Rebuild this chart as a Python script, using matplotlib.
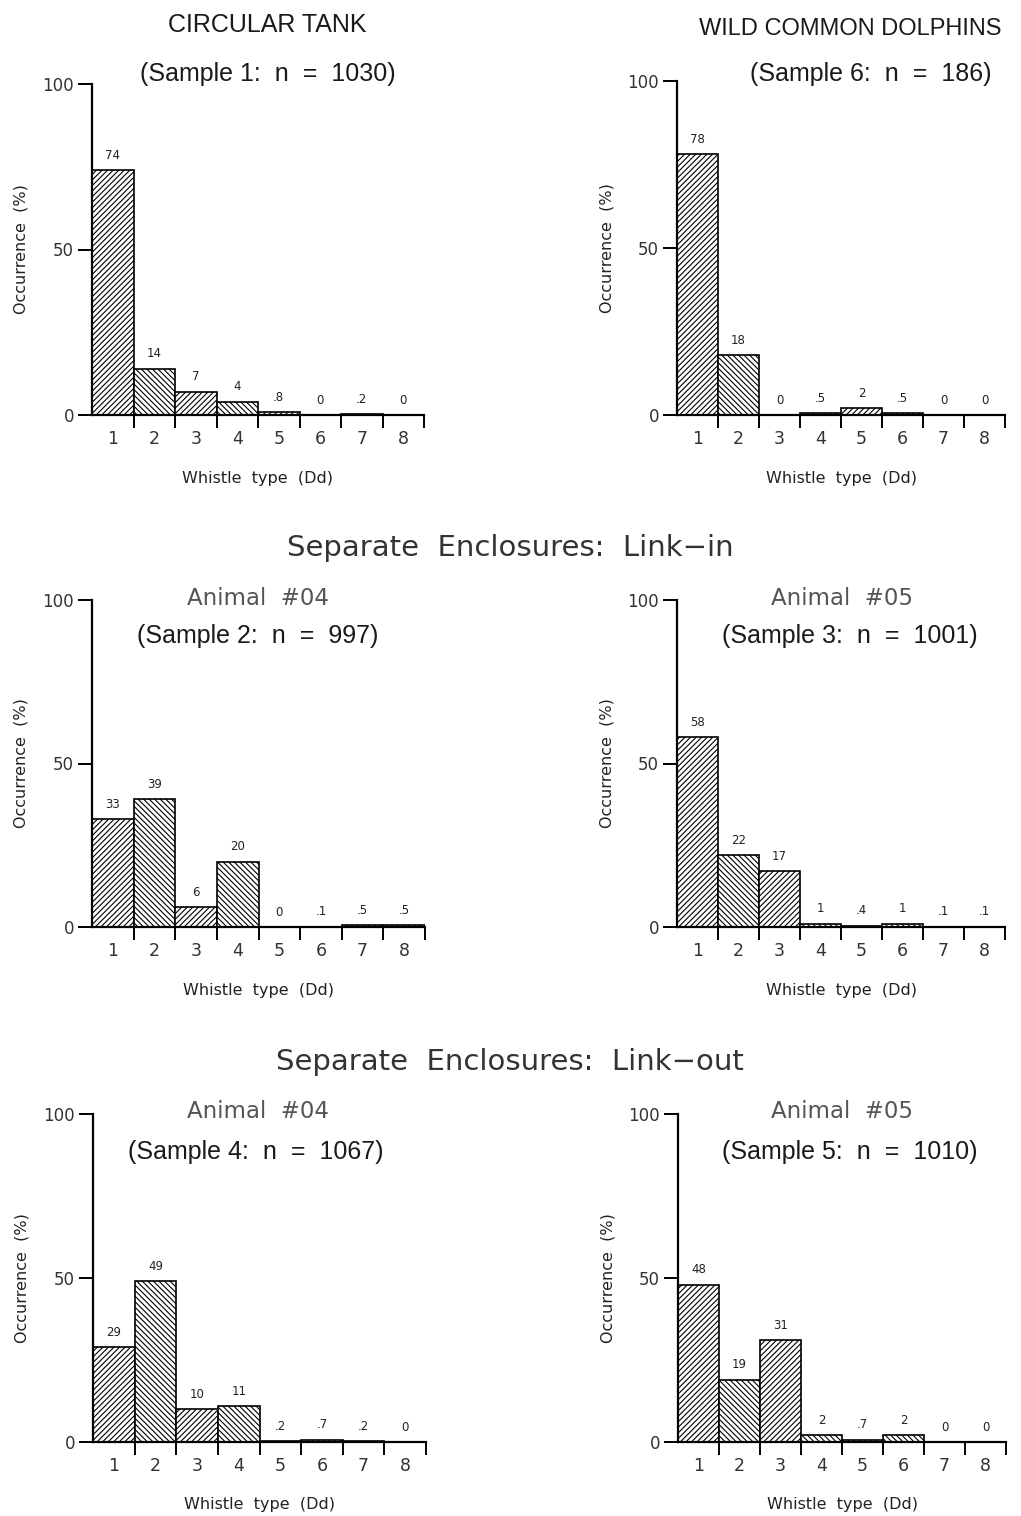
import numpy as np
import matplotlib
matplotlib.use("Agg")
import matplotlib.pyplot as plt

W, H = 1021, 1516
plt.rcParams['font.family'] = ['DejaVu Sans']
plt.rcParams['hatch.linewidth'] = 0.8

whistle_types = [1, 2, 3, 4, 5, 6, 7, 8]

sample1 = [74, 14, 7, 4, 0.8, 0, 0.2, 0]
sample6 = [78, 18, 0, 0.5, 2, 0.5, 0, 0]
sample2 = [33, 39, 6, 20, 0, 0.1, 0.5, 0.5]
sample3 = [58, 22, 17, 1, 0.4, 1, 0.1, 0.1]
sample4 = [29, 49, 10, 11, 0.2, 0.7, 0.2, 0]
sample5 = [48, 19, 31, 2, 0.7, 2, 0, 0]

sample_titles = {
    1: "(Sample 1:  n  =  1030)",
    6: "(Sample 6:  n  =  186)",
    2: "(Sample 2:  n  =  997)",
    3: "(Sample 3:  n  =  1001)",
    4: "(Sample 4:  n  =  1067)",
    5: "(Sample 5:  n  =  1010)",
}

fig = plt.figure(figsize=(W / 100, H / 100), dpi=100)


def fmt(v):
    if v == 0:
        return "0"
    if v < 1:
        return ("%.1f" % v)[1:]
    return "%d" % v


def panel(x0, ytop, ybot, width, values):
    ax = fig.add_axes([x0 / W, 1 - ybot / H, width / W, (ybot - ytop) / H])
    hatches = ['//////', '\\\\\\\\\\\\'] * 4
    for x, v, h in zip(whistle_types, values, hatches):
        ax.bar(x, v, width=1.0, color='white', edgecolor='black',
               linewidth=1.2, hatch=h)
        ax.annotate(fmt(v), (x, v), xytext=(0, 6), textcoords='offset points',
                    ha='center', va='bottom', fontsize=8.5, color='#222222')
    ax.set_xlim(0.5, 8.5)
    ax.set_ylim(0, 100)
    for s in ['top', 'right']:
        ax.spines[s].set_visible(False)
    for s in ['left', 'bottom']:
        ax.spines[s].set_linewidth(1.6)
    ax.set_yticks([0, 50, 100])
    ax.tick_params(axis='y', length=10, width=1.4, labelsize=12, pad=3,
                   labelcolor='#333333')
    ax.set_xticks(whistle_types)
    ax.set_xticks(np.arange(1.5, 9, 1), minor=True)
    ax.tick_params(axis='x', which='major', length=0, labelsize=12.5, pad=11,
                   labelcolor='#333333')
    ax.tick_params(axis='x', which='minor', length=9, width=1.4)
    ax.set_xlabel("Whistle  type  (Dd)", fontsize=11.5, labelpad=16,
                  color='#222222')
    ax.set_ylabel("Occurrence  (%)", fontsize=11.5, color='#222222')
    ax.yaxis.set_label_coords(-0.19, 0.5)
    return ax


def ftext(x, y, s, **kw):
    fig.text(x / W, 1 - y / H, s, ha='center', va='center', **kw)


panel(92, 84, 415, 332, sample1)
panel(677, 81, 415, 328, sample6)
panel(92, 600, 927, 333, sample2)
panel(677, 600, 927, 328, sample3)
panel(93, 1114, 1442, 333, sample4)
panel(678, 1114, 1442, 328, sample5)

hel = ['Liberation Sans']
ftext(267, 25, "CIRCULAR TANK", fontsize=18, family=hel, color='#1a1a1a')
ftext(268, 74, sample_titles[1], fontsize=18, family=hel, color='#1a1a1a')
ftext(850, 29, "WILD COMMON DOLPHINS", fontsize=17, family=hel,
      color='#1a1a1a')
ftext(871, 74, sample_titles[6], fontsize=18, family=hel, color='#1a1a1a')

ftext(510, 548, "Separate  Enclosures:  Link\u2212in", fontsize=21,
      color='#333333')
ftext(258, 598, "Animal  #04", fontsize=16.5, color='#555555')
ftext(258, 636, sample_titles[2], fontsize=18, family=hel, color='#1a1a1a')
ftext(842, 598, "Animal  #05", fontsize=16.5, color='#555555')
ftext(850, 636, sample_titles[3], fontsize=18, family=hel, color='#1a1a1a')

ftext(510, 1062, "Separate  Enclosures:  Link\u2212out", fontsize=21,
      color='#333333')
ftext(258, 1112, "Animal  #04", fontsize=16.5, color='#555555')
ftext(256, 1152, sample_titles[4], fontsize=18, family=hel, color='#1a1a1a')
ftext(842, 1112, "Animal  #05", fontsize=16.5, color='#555555')
ftext(850, 1152, sample_titles[5], fontsize=18, family=hel, color='#1a1a1a')

fig.savefig("out.png", dpi=100)
